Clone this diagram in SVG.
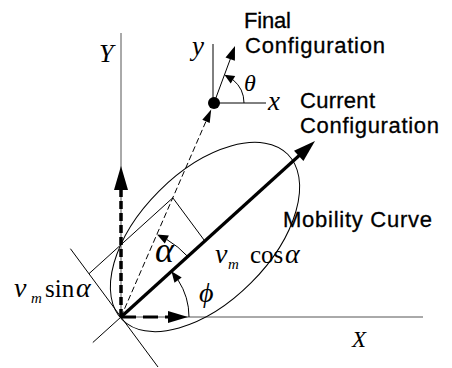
<svg xmlns="http://www.w3.org/2000/svg" width="452" height="368" viewBox="0 0 452 368">
<style>
.ax{stroke:#555;stroke-width:1;fill:none}
.thin{stroke:#000;stroke-width:1;fill:none}
.thick{stroke:#000;stroke-width:3.2;fill:none}
.dashthin{stroke:#000;stroke-width:1;fill:none;stroke-dasharray:6 3}
.dashv{stroke:#000;stroke-width:3.5;fill:none;stroke-dasharray:8 4}
.dashh{stroke:#000;stroke-width:3;fill:none;stroke-dasharray:15 7}
.head{fill:#000;stroke:none}
.sans{font-family:"Liberation Sans",Arial,sans-serif;font-size:22px;fill:#000;stroke:#000;stroke-width:0.3}
.it{font-family:"Liberation Serif","Times New Roman",serif;font-style:italic;fill:#000}
.rm{font-family:"Liberation Serif","Times New Roman",serif;fill:#000}
</style>
<rect width="452" height="368" fill="#fff"/>
<g id="axes">
  <line class="ax" x1="121" y1="33" x2="121" y2="317"/>
  <line class="ax" x1="121" y1="317" x2="423" y2="317"/>
  <text class="it" x="99" y="62" font-size="26">Y</text>
  <text class="it" x="352" y="347" font-size="23">X</text>
</g>
<g id="mobility-curve">
  <ellipse class="thin" cx="205" cy="237" rx="117" ry="65" transform="rotate(-45 205 237)"/>
  <text class="sans" x="283" y="227" textLength="149" lengthAdjust="spacing">Mobility Curve</text>
</g>
<g id="final-config">
  <circle cx="214" cy="103" r="6" fill="#000"/>
  <line class="thin" x1="213" y1="44" x2="213" y2="103"/>
  <line class="thin" x1="214" y1="103" x2="266" y2="103"/>
  <text class="it" x="192" y="55" font-size="27">y</text>
  <text class="it" x="268" y="110" font-size="27">x</text>
  <text class="it" x="244" y="91" font-size="24">θ</text>
  <text class="sans" x="244" y="28" textLength="47" lengthAdjust="spacing">Final</text>
  <text class="sans" x="245" y="53" textLength="140" lengthAdjust="spacing">Configuration</text>
</g>
<g id="current-config">
  <text class="sans" x="300" y="108" textLength="75" lengthAdjust="spacing">Current</text>
  <text class="sans" x="300" y="133" textLength="139" lengthAdjust="spacing">Configuration</text>
</g>
<g id="labels">
  <text class="it" x="155" y="262" font-size="36">α</text>
  <text class="it" x="199" y="302" font-size="28">ϕ</text>
  <text x="14" y="297" font-size="28"><tspan class="it">v</tspan><tspan class="it" x="31" y="303" font-size="15">m</tspan><tspan class="rm" x="45" y="297" font-size="25">sin</tspan><tspan class="it" x="76" y="297">α</tspan></text>
  <text x="215" y="263" font-size="28"><tspan class="it">v</tspan><tspan class="it" x="228" y="269" font-size="15">m</tspan><tspan class="rm" x="250" y="263" font-size="25">cos</tspan><tspan class="it" x="285" y="263">α</tspan></text>
</g>
<g id="connectors">
  <line class="thin" x1="70.4" y1="248.7" x2="158" y2="367"/>
  <line class="thin" x1="121" y1="317" x2="92.8" y2="342.5"/>
  <line class="thin" x1="172.8" y1="197.8" x2="204.8" y2="241"/>
  <line class="thin" x1="172.8" y1="197.8" x2="89" y2="273.7"/>
  <line class="dashthin" x1="121" y1="317" x2="206" y2="121.3"/>
  <polygon class="head" points="211.2,109.4 209.7,122.9 202.3,119.7"/>
  <line class="thick" x1="121" y1="317" x2="299.5" y2="155.2"/>
  <polygon class="head" points="315,141.1 303.4,161.1 294,150.7"/>
  <line class="dashv" x1="121" y1="317" x2="121" y2="189"/>
  <polygon class="head" points="121,166 114,190 128,190"/>
  <line class="dashh" x1="121" y1="317" x2="169" y2="317"/>
  <polygon class="head" points="188,317 168,311 168,323"/>
  <line class="thin" x1="214" y1="103" x2="230.5" y2="58.5"/>
  <polygon class="head" points="235,46 234.9,60.8 225.5,57.4"/>
  <path class="thin" d="M244 103 A30 30 0 0 0 232.95 79.75"/>
  <polygon class="head" points="224.4,74.8 235.2,75.9 230.7,83.6"/>
  <path class="thin" d="M189 317 A68 68 0 0 0 178.1 280.1"/>
  <polygon class="head" points="171.4,271.3 181.7,277.4 174.5,282.8"/>
  <path class="thin" d="M187.7 256.5 A90 90 0 0 0 166.8 239.5"/>
  <polygon class="head" points="157,234.5 168.9,235.5 164.8,243.5"/>
</g>
</svg>
